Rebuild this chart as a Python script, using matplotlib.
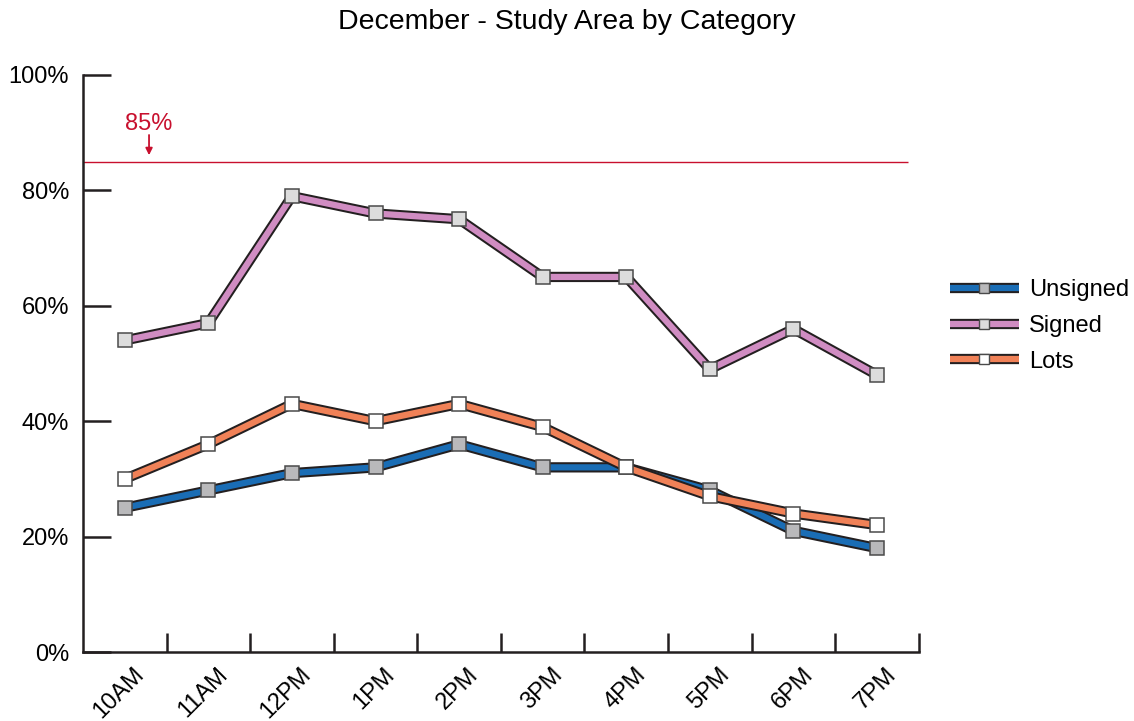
import matplotlib
matplotlib.use("Agg")
import matplotlib.pyplot as plt
import matplotlib.patheffects as pe
from matplotlib.lines import Line2D
from matplotlib.legend_handler import HandlerTuple
from matplotlib.transforms import ScaledTranslation
from matplotlib.ticker import FixedLocator, NullFormatter, FuncFormatter

plt.rcParams['font.family'] = ['Liberation Sans', 'DejaVu Sans']

hours = ["10AM", "11AM", "12PM", "1PM", "2PM", "3PM", "4PM", "5PM", "6PM", "7PM"]
unsigned = [25, 28, 31, 32, 36, 32, 32, 28, 21, 18]
signed = [54, 57, 79, 76, 75, 65, 65, 49, 56, 48]
lots = [30, 36, 43, 40, 43, 39, 32, 27, 24, 22]
target = 85

series = [
    ("Unsigned", unsigned, "#1a6db5", "#b9b9bb"),
    ("Signed", signed, "#d08cc2", "#dcdcdc"),
    ("Lots", lots, "#f08157", "#ffffff"),
]

OUTLINE = '#231f20'
LINE_W = 4.5
STROKE_W = 7.4
MARKER_EDGE = '#4a4a4a'
RED = '#c8102e'
outline_fx = [pe.Stroke(linewidth=STROKE_W, foreground=OUTLINE), pe.Normal()]

fig = plt.figure(figsize=(11.34, 7.21), dpi=100)
ax = fig.add_axes([0.0732, 0.0957, 0.737, 0.8003])

xs = [i + 0.5 for i in range(len(hours))]
handles = []
for k, (name, vals, color, mface) in enumerate(series):
    z = 3 + k
    ax.plot(xs, vals, color=color, lw=LINE_W, solid_joinstyle='miter',
            solid_capstyle='butt', path_effects=outline_fx, zorder=z)
    ax.plot(xs, vals, ls='none', marker='s', markersize=9.6,
            markerfacecolor=mface, markeredgecolor=MARKER_EDGE,
            markeredgewidth=1.1, zorder=z + 0.5)
    line_h = Line2D([], [], color=color, lw=LINE_W, solid_capstyle='butt',
                    path_effects=outline_fx)
    mark_h = Line2D([], [], ls='none', marker='s', markersize=6.5,
                    markerfacecolor=mface, markeredgecolor=MARKER_EDGE,
                    markeredgewidth=1.0)
    handles.append(((line_h, mark_h), name))

# target line with its label and arrow
ax.hlines(target, 0, 9.87, color=RED, lw=1.0, zorder=2)
ax.text(0.79, target + 5.5, f"{target}%", ha='center', va='baseline',
        color=RED, fontsize=17)
ax.annotate("", xy=(0.79, target + 1.1), xytext=(0.79, target + 4.6),
            arrowprops=dict(arrowstyle='-|>', color=RED, lw=1.3,
                            mutation_scale=10, shrinkA=0, shrinkB=0))

ax.set_xlim(0, len(hours))
ax.set_ylim(0, 100)

for s in ('top', 'right'):
    ax.spines[s].set_visible(False)
for s in ('left', 'bottom'):
    ax.spines[s].set_linewidth(1.8)
    ax.spines[s].set_color(OUTLINE)

ax.xaxis.set_major_locator(FixedLocator(list(range(1, len(hours) + 1))))
ax.xaxis.set_major_formatter(NullFormatter())
ax.xaxis.set_minor_locator(FixedLocator(xs))
ax.set_xticklabels(hours, minor=True, rotation=45, ha='right', va='center',
                   rotation_mode='anchor', fontsize=17)
ax.tick_params(axis='x', which='major', direction='in', length=14, width=1.8,
               color=OUTLINE)
ax.tick_params(axis='x', which='minor', length=0, pad=14)
shift = ScaledTranslation(0.16, 0, fig.dpi_scale_trans)
for lab in ax.get_xticklabels(minor=True):
    lab.set_transform(lab.get_transform() + shift)

ax.set_yticks([0, 20, 40, 60, 80, 100])
ax.yaxis.set_major_formatter(FuncFormatter(lambda v, p: f"{int(v)}%"))
ax.tick_params(axis='y', direction='in', length=20, width=1.8, color=OUTLINE,
               labelsize=17, pad=10)

fig.suptitle("December - Study Area by Category", fontsize=20.5, y=0.988)

ax.legend([h for h, _ in handles], [n for _, n in handles],
          handler_map={tuple: HandlerTuple(ndivide=1, pad=0)},
          loc='center left', bbox_to_anchor=(0.829, 0.548),
          bbox_transform=fig.transFigure, frameon=False, fontsize=17,
          handlelength=2.95, handletextpad=0.4, labelspacing=0.58,
          borderaxespad=0)

fig.savefig("out.png", dpi=100)
